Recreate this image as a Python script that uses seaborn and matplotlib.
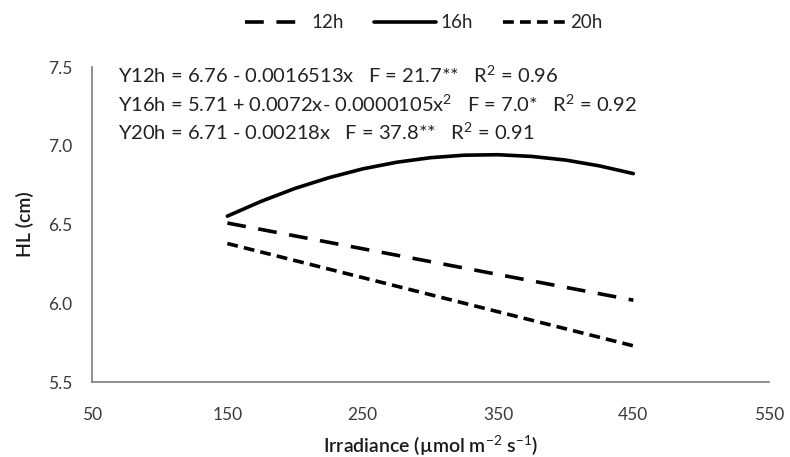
import matplotlib
matplotlib.use("Agg")
import matplotlib.pyplot as plt
import seaborn as sns
import pandas as pd

# Data
x_12h = [150, 450]
y_12h = [6.51, 6.02]
x_16h = [150, 175, 200, 225, 250, 275, 300, 325, 350, 375, 400, 425, 450]
y_16h = [6.554, 6.648, 6.730, 6.798, 6.854, 6.896, 6.925, 6.941, 6.944, 6.933, 6.910, 6.873, 6.824]
x_20h = [150, 450]
y_20h = [6.38, 5.73]
series_names = ["12h", "16h", "20h"]
x_ticks = [50, 150, 250, 350, 450, 550]
y_ticks = [5.5, 6.0, 6.5, 7.0, 7.5]
equations = [
    "Y12h = 6.76 - 0.0016513x   F = 21.7**   R$^{2}$ = 0.96",
    "Y16h = 5.71 + 0.0072x- 0.0000105x$^{2}$   F = 7.0*   R$^{2}$ = 0.92",
    "Y20h = 6.71 - 0.00218x   F = 37.8**   R$^{2}$ = 0.91",
]

df = pd.concat([
    pd.DataFrame({"x": x_12h, "y": y_12h, "s": "12h"}),
    pd.DataFrame({"x": x_16h, "y": y_16h, "s": "16h"}),
    pd.DataFrame({"x": x_20h, "y": y_20h, "s": "20h"}),
])

sns.set_style("white")
plt.rcParams["font.family"] = ["Lato", "DejaVu Sans"]
plt.rcParams["mathtext.fontset"] = "custom"
plt.rcParams["mathtext.rm"] = "Lato"

fig = plt.figure(figsize=(7.9, 4.57), dpi=100)
ax = fig.add_axes([0.1165, 0.164, 0.8565, 0.689])

styles = {"12h": (0, (5.2, 3.5)), "16h": "-", "20h": (0, (3, 1.7))}
for name in series_names:
    sub = df[df["s"] == name]
    sns.lineplot(data=sub, x="x", y="y", ax=ax, color="black", linewidth=2.6,
                 linestyle=styles[name], label=name, sort=False)

ax.set_xlim(50, 550)
ax.set_ylim(5.5, 7.5)
ax.set_xticks(x_ticks)
ax.set_yticks(y_ticks)
ax.set_yticklabels([f"{v:.1f}" for v in y_ticks])
gray = "#878787"
for side in ["top", "right"]:
    ax.spines[side].set_visible(False)
for side in ["left", "bottom"]:
    ax.spines[side].set_color(gray)
    ax.spines[side].set_linewidth(1.3)
ax.tick_params(axis="both", direction="out", length=6, width=1.3, color=gray,
               labelsize=12.5, labelcolor="#3a3a3a", pad=8)
ax.tick_params(axis="x", pad=12)

ax.set_xlabel("Irradiance (µmol m$^{-2}$ s$^{-1}$)", fontsize=14, fontweight="semibold",
              color="#1a1a1a", labelpad=7)
ax.set_ylabel("HL (cm)", fontsize=14, fontweight="semibold", color="#1a1a1a", labelpad=10)

eq_y = [75, 103.5, 132]
for eq, yy in zip(equations, eq_y):
    fig.text(118 / 790, 1 - yy / 457, eq, fontsize=14.5, color="#222222", va="center")

ax.legend(loc="lower center", bbox_to_anchor=(0.49, 1.06), ncol=3, frameon=False,
          fontsize=13.5, handlelength=3.3, columnspacing=1.6, handletextpad=0.25)

fig.savefig("out.png", dpi=100)
